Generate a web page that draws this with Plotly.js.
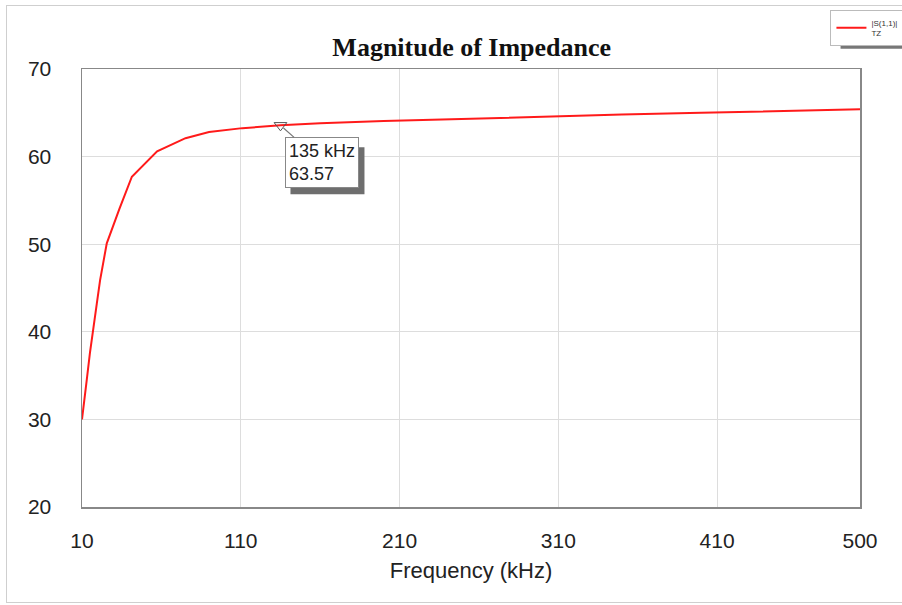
<!DOCTYPE html>
<html>
<head>
<meta charset="utf-8">
<script src="https://cdn.plot.ly/plotly-3.0.1.min.js"></script>
<style>
html,body{margin:0;padding:0;background:#fff;}
#frame{position:absolute;left:6px;top:5px;width:902px;height:598px;border:1px solid #cfcfcf;box-sizing:border-box;}
#chart{position:absolute;left:0;top:0;width:902px;height:605px;}
</style>
</head>
<body>
<div id="frame"></div>
<div id="chart"></div>
<script>
// Frequency in kHz
const freq = [10, 11.5, 13, 15, 17.2, 19.3, 21.4, 23.5, 25.6, 33.5, 41.4, 57.3, 75.2, 90, 111, 135, 160, 200, 250, 298, 302, 350, 400, 450, 500];
// |S(1,1)| impedance magnitude
const mag  = [30, 32.6, 34.5, 37.6, 40.2, 43.2, 45.9, 48.2, 50.1, 54.0, 57.7, 60.6, 62.1, 62.8, 63.25, 63.57, 63.8, 64.05, 64.3, 64.5, 64.6, 64.8, 65.0, 65.2, 65.4];
const markerFreq = [135];
const markerMag = [63.57];
const markerLabel = '135 kHz<br>63.57';
const xTicks = [10, 110, 210, 310, 410, 500];
const yTicks = [20, 30, 40, 50, 60, 70];

const traces = [
  {
    x: freq, y: mag, type: 'scatter', mode: 'lines',
    name: '|S(1,1)|<br>TZ',
    line: {color: '#ff1a1a', width: 2}
  },
  {
    x: markerFreq, y: markerMag, type: 'scatter', mode: 'markers',
    showlegend: false,
    marker: {symbol: 'triangle-down-open', size: 11, color: '#555', line: {width: 1, color: '#555'}}
  }
];

const font = 'Liberation Sans, Arial, sans-serif';

const layout = {
  width: 902, height: 605,
  paper_bgcolor: 'rgba(0,0,0,0)',
  plot_bgcolor: '#fff',
  margin: {l: 82, r: 42, t: 69, b: 98, autoexpand: false},
  title: {
    text: '<b>Magnitude of Impedance</b>',
    font: {family: 'Liberation Serif, Times New Roman, serif', size: 26, color: '#111'},
    x: 0.523, xanchor: 'center', y: 0.923, yanchor: 'middle'
  },
  xaxis: {
    range: [10, 500],
    tickvals: xTicks, ticktext: xTicks.map(String),
    showgrid: true, gridcolor: '#dddddd', gridwidth: 1,
    showline: true, linecolor: '#888', linewidth: 1.5, mirror: true,
    ticks: '', ticklabelstandoff: 14,
    zeroline: false,
    tickfont: {family: font, size: 21, color: '#222'},
    title: {text: 'Frequency (kHz)', standoff: 12,
            font: {family: font, size: 22, color: '#222'}}
  },
  yaxis: {
    range: [20, 70],
    tickvals: yTicks, ticktext: yTicks.map(String),
    showgrid: true, gridcolor: '#dddddd', gridwidth: 1,
    showline: true, linecolor: '#888', linewidth: 1.5, mirror: true,
    ticks: '', ticklabelstandoff: 25,
    zeroline: false,
    tickfont: {family: font, size: 21, color: '#222'}
  },
  showlegend: true,
  legend: {
    x: 0.962, xanchor: 'left', y: 1.135, yanchor: 'top',
    bgcolor: '#fff', bordercolor: '#bbb', borderwidth: 1,
    font: {family: font, size: 8, color: '#333'},
    itemwidth: 30, tracegroupgap: 0
  },
  shapes: [
    // shadow under the marker readout box
    {
      type: 'rect', layer: 'above',
      xref: 'x', yref: 'y', xsizemode: 'pixel', ysizemode: 'pixel',
      xanchor: markerFreq[0], yanchor: markerMag[0],
      x0: 10, x1: 84, y0: -22, y1: -69,
      fillcolor: '#6e6e6e', line: {width: 0}
    },
    // shadow under the legend box
    {
      type: 'rect', layer: 'above',
      xref: 'paper', yref: 'paper',
      x0: 0.975, x1: 1.06, y0: 1.046, y1: 1.055,
      fillcolor: '#777', line: {width: 0}
    }
  ],
  annotations: [
    {
      x: markerFreq[0], y: markerMag[0], xref: 'x', yref: 'y',
      text: markerLabel, align: 'left',
      showarrow: true, arrowhead: 0, arrowcolor: '#777', arrowwidth: 1.2,
      ax: 42, ay: 37, xanchor: 'center', yanchor: 'middle',
      bgcolor: '#fff', bordercolor: '#888', borderwidth: 1, borderpad: 3,
      font: {family: font, size: 18, color: '#222'},
      standoff: 4
    }
  ]
};

Plotly.newPlot('chart', traces, layout, {displayModeBar: false, staticPlot: true});
</script>
</body>
</html>
